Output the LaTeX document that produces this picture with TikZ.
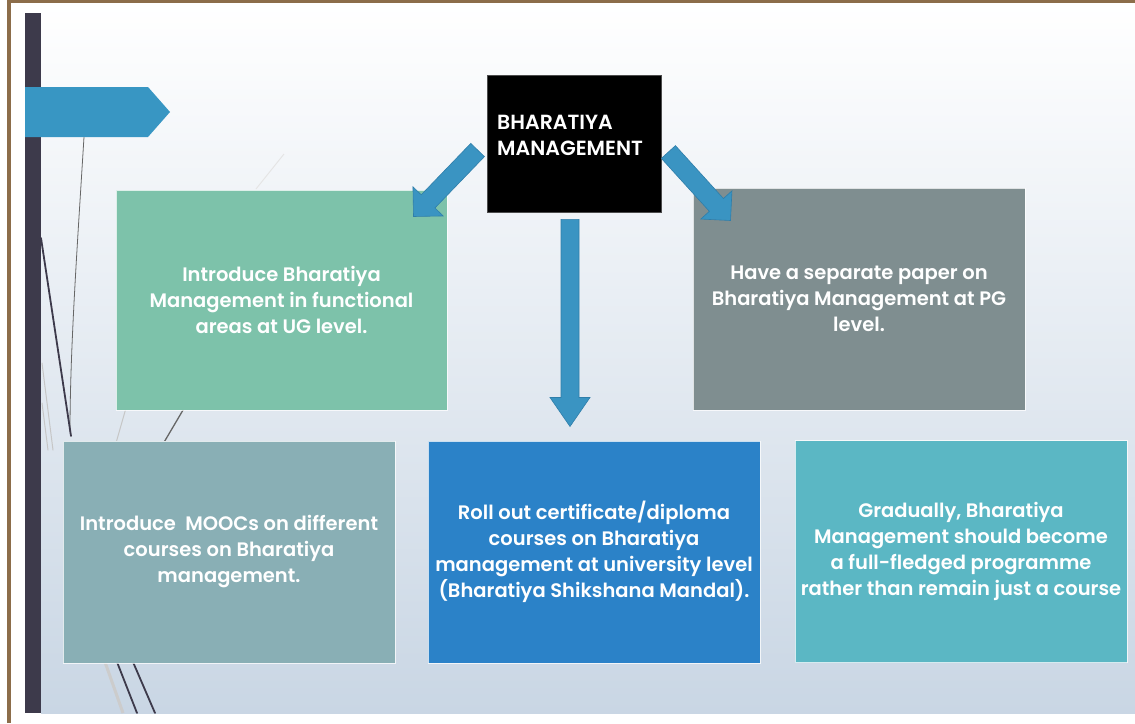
\documentclass[tikz,border=0pt]{standalone}
\usepackage{fontspec}
\setmainfont{Poppins}[BoldFont={Poppins SemiBold}]
\usetikzlibrary{calc}

\definecolor{framebrown}{HTML}{8C6D4A}
\definecolor{barslate}{HTML}{3D3A4B}
\definecolor{arrowblue}{HTML}{3A94C2}
\definecolor{arrowedge}{HTML}{2F7EAA}
\definecolor{tabblue}{HTML}{3896C3}
\definecolor{ugfill}{HTML}{7DC2AA}
\definecolor{pgfill}{HTML}{7F8E90}
\definecolor{moocfill}{HTML}{89AFB5}
\definecolor{univfill}{HTML}{2B82C8}
\definecolor{progfill}{HTML}{5BB7C4}
\definecolor{skybottom}{HTML}{C9D6E4}

\tikzset{
  card/.style={draw=white, draw opacity=0.75, line width=1pt, text=white,
    align=center, inner sep=0pt, minimum width=332pt, minimum height=222pt,
    font=\bfseries\fontsize{19.5}{26}\selectfont},
  titlebox/.style={draw=black!70, fill=black, line width=0.8pt,
    minimum width=174pt, minimum height=137pt},
  barrow/.style={fill=arrowblue, draw=arrowedge, line width=0.6pt, line join=miter},
  wispdark/.style={draw=barslate, line width=1.8pt, line cap=round},
  wispthin/.style={draw=black!60, line width=0.8pt, line cap=round},
  wispfaint/.style={draw=gray!45, line width=1pt, line cap=round},
}

% block arrow from #1 to #2: #3 id, #4 shaft half width, #5 head half width, #6 head length
\newcommand{\blockarrow}[6]{%
  \coordinate (#3h) at ($(#2)!#6!(#1)$);
  \path[barrow] ($(#1)!#4!90:(#2)$) -- ($(#3h)!#4!-90:(#1)$) -- ($(#3h)!#5!-90:(#1)$)
    -- (#2) -- ($(#3h)!#5!90:(#1)$) -- ($(#3h)!#4!90:(#1)$) -- ($(#1)!#4!-90:(#2)$) -- cycle;}

\begin{document}
\begin{tikzpicture}[x=1pt, y=-1pt]
\useasboundingbox (0,0) rectangle (1135,723);
\fill[white] (0,0) rectangle (1135,723);

% slide background
\shade[top color=white, bottom color=skybottom] (41,3) rectangle (1135,713);

% brown frame edges
\fill[framebrown] (7,0) rectangle (1135,3);
\fill[framebrown] (7,0) rectangle (11,723);

% decorative wisps on the left
\draw[wispthin] (84,137) .. controls (77,250) and (70,350) .. (70,432);
\draw[wispdark] (41,238) -- (71,436);
\draw[wispfaint] (42,363) -- (53,450);
\draw[wispfaint] (42,403) -- (48,450);
\draw[wispfaint] (126,408) -- (116,443);
\draw[wispthin, line width=1.3pt] (186,405) -- (163,444);
\draw[draw=gray!20, line width=1pt] (284,154) -- (256,189);
\draw[draw=gray!40, line width=3pt] (105,662) -- (123,713);
\draw[wispdark] (117,662) -- (137,713);
\draw[wispdark] (133,662) -- (155,713);

% vertical bar and tab
\fill[barslate] (25,13) rectangle (41,713);
\fill[tabblue] (25,87) -- (148,87) -- (170,112) -- (148,137) -- (25,137) -- cycle;

% title box
\node[titlebox] (bm) at (574,143.5) {};
\node[anchor=west, text=white, align=left, inner sep=0pt,
  font=\bfseries\fontsize{20.5}{26}\selectfont] (bmtext) at (497,135)
  {BHARATIYA\\MANAGEMENT};

% cards
\node[card, fill=ugfill, minimum width=331pt, minimum height=220pt] (ug) at (281.5,300)
  {Introduce Bharatiya\\Management in functional\\areas at UG level.};
\node[card, fill=pgfill] (pg) at (859,299)
  {Have a separate paper on\\Bharatiya Management at PG\\level.};
\node[card, fill=moocfill] (mooc) at (229,552)
  {Introduce\ \ MOOCs on different\\courses on Bharatiya\\management.};
\node[card, fill=univfill] (univ) at (594,552)
  {Roll out certificate/diploma\\courses on Bharatiya\\management at university level\\(Bharatiya Shikshana Mandal).};
\node[card, fill=progfill] (prog) at (961,551.5)
  {Gradually, Bharatiya\\Management should become\\a full-fledged programme\\rather than remain just a course};

% arrows
\coordinate (la0) at ($(bm.west)+(-9,6.5)$);
\coordinate (la1) at ($(ug.north east)+(-34,27)$);
\coordinate (ra0) at ($(bm.east)+(7,8.5)$);
\coordinate (ra1) at ($(pg.north west)+(38,33)$);
\coordinate (da0) at ($(bm.south)+(-4,7)$);
\coordinate (da1) at ($(univ.north)+(-24,-14)$);
\blockarrow{la0}{la1}{la}{9.5pt}{21pt}{21pt}
\blockarrow{ra0}{ra1}{ra}{9.5pt}{21pt}{21pt}
\blockarrow{da0}{da1}{da}{9pt}{20pt}{29pt}
\end{tikzpicture}
\end{document}
